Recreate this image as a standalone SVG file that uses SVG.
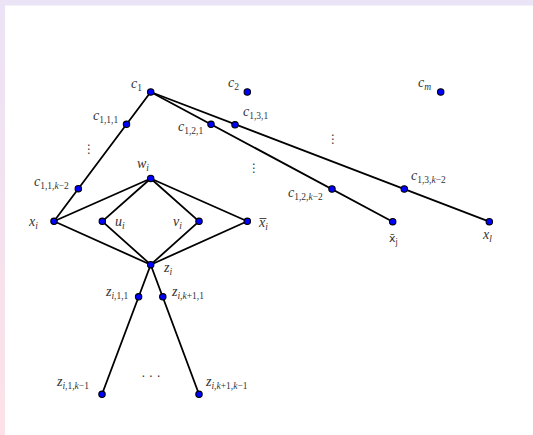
<svg xmlns="http://www.w3.org/2000/svg" width="533" height="435" viewBox="0 0 533 435">
<defs>
<linearGradient id="lg" x1="0" y1="0" x2="0" y2="1">
<stop offset="0" stop-color="#ebe3f6"/>
<stop offset="1" stop-color="#fde1e7"/>
</linearGradient>
</defs>
<style>
.e{stroke:#000;stroke-width:1.8;fill:none;stroke-linecap:round}
.n{fill:#0000ff;stroke:#000;stroke-width:1.1}
.t{font-family:"Liberation Serif","Times New Roman",serif;font-style:italic;font-size:14px;fill:#333}
.s{font-size:9.5px;font-style:normal}
.si{font-size:9.5px;font-style:italic}
.d{font-family:"DejaVu Sans",sans-serif;font-size:11px;fill:#333}
</style>
<rect x="0" y="0" width="533" height="435" fill="#fff"/>
<rect x="0" y="0" width="533" height="5.5" fill="#ebe3f6"/>
<rect x="0" y="0" width="5" height="435" fill="url(#lg)"/>
<g id="connectors">
<line class="e" x1="150.7" y1="92" x2="54" y2="221.3"/>
<line class="e" x1="150.7" y1="92" x2="392.7" y2="221.7"/>
<line class="e" x1="150.7" y1="92" x2="489.3" y2="221.7"/>
<line class="e" x1="150.7" y1="178.5" x2="54" y2="221.3"/>
<line class="e" x1="150.7" y1="178.5" x2="102.3" y2="221.3"/>
<line class="e" x1="150.7" y1="178.5" x2="199" y2="221.3"/>
<line class="e" x1="150.7" y1="178.5" x2="247.3" y2="221.3"/>
<line class="e" x1="150.7" y1="264.7" x2="54" y2="221.3"/>
<line class="e" x1="150.7" y1="264.7" x2="102.3" y2="221.3"/>
<line class="e" x1="150.7" y1="264.7" x2="199" y2="221.3"/>
<line class="e" x1="150.7" y1="264.7" x2="247.3" y2="221.3"/>
<line class="e" x1="150.7" y1="264.7" x2="102" y2="394.3"/>
<line class="e" x1="150.7" y1="264.7" x2="199" y2="394.3"/>
</g>
<g id="c1"><circle class="n" cx="150.7" cy="92" r="3.2"/><text class="t" x="131" y="88">c<tspan class="s" dy="2.5">1</tspan></text></g>
<g id="c2"><circle class="n" cx="247.3" cy="92" r="3.2"/><text class="t" x="228" y="87">c<tspan class="s" dy="2.5">2</tspan></text></g>
<g id="cm"><circle class="n" cx="440.7" cy="92" r="3.2"/><text class="t" x="418" y="87">c<tspan class="si" dy="2.5">m</tspan></text></g>
<g id="c111"><circle class="n" cx="126.5" cy="124.3" r="3.2"/><text class="t" x="93" y="120">c<tspan class="s" dy="2.5">1,1,1</tspan></text></g>
<g id="c121"><circle class="n" cx="211" cy="124.3" r="3.2"/><text class="t" x="178" y="131">c<tspan class="s" dy="2.5">1,2,1</tspan></text></g>
<g id="c131"><circle class="n" cx="235" cy="124.8" r="3.2"/><text class="t" x="243" y="116">c<tspan class="s" dy="2.5">1,3,1</tspan></text></g>
<g id="c11k2"><circle class="n" cx="78.3" cy="188.7" r="3.2"/><text class="t" x="34" y="186">c<tspan class="s" dy="2.5">1,1,</tspan><tspan class="si">k</tspan><tspan class="s">−2</tspan></text></g>
<g id="c12k2"><circle class="n" cx="332" cy="189" r="3.2"/><text class="t" x="288" y="197">c<tspan class="s" dy="2.5">1,2,</tspan><tspan class="si">k</tspan><tspan class="s">−2</tspan></text></g>
<g id="c13k2"><circle class="n" cx="404.3" cy="189" r="3.2"/><text class="t" x="411" y="180">c<tspan class="s" dy="2.5">1,3,</tspan><tspan class="si">k</tspan><tspan class="s">−2</tspan></text></g>
<g id="wi"><circle class="n" cx="150.7" cy="178.5" r="3.2"/><text class="t" x="137" y="168">w<tspan class="si" dy="2.5">i</tspan></text></g>
<g id="xi"><circle class="n" cx="54" cy="221.3" r="3.2"/><text class="t" x="29" y="226">x<tspan class="si" dy="2.5">i</tspan></text></g>
<g id="ui"><circle class="n" cx="102.3" cy="221.3" r="3.2"/><text class="t" x="115" y="226">u<tspan class="si" dy="2.5">i</tspan></text></g>
<g id="vi"><circle class="n" cx="199" cy="221.3" r="3.2"/><text class="t" x="173" y="226">v<tspan class="si" dy="2.5">i</tspan></text></g>
<g id="xbari"><circle class="n" cx="247.3" cy="221.3" r="3.2"/><line x1="259.5" y1="218.5" x2="266.5" y2="218.5" stroke="#333" stroke-width="0.9"/><text class="t" x="259" y="227">x<tspan class="si" dy="2.5">i</tspan></text></g>
<g id="xbarj"><circle class="n" cx="392.7" cy="221.7" r="3.2"/><text class="d" x="389" y="242">x̄<tspan font-size="8" dy="2.5">j</tspan></text></g>
<g id="xl"><circle class="n" cx="489.3" cy="221.7" r="3.2"/><text class="t" x="483" y="239">x<tspan class="si" dy="2.5">l</tspan></text></g>
<g id="zi"><circle class="n" cx="150.7" cy="264.7" r="3.2"/><text class="t" x="164" y="272">z<tspan class="si" dy="2.5">i</tspan></text></g>
<g id="zi11"><circle class="n" cx="138.6" cy="296.8" r="3.2"/><text class="t" x="106" y="296">z<tspan class="si" dy="2.5">i</tspan><tspan class="s">,1,1</tspan></text></g>
<g id="zik11"><circle class="n" cx="162.8" cy="296.8" r="3.2"/><text class="t" x="172" y="296">z<tspan class="si" dy="2.5">i</tspan><tspan class="s">,</tspan><tspan class="si">k</tspan><tspan class="s">+1,1</tspan></text></g>
<g id="zi1k1"><circle class="n" cx="102" cy="394.3" r="3.2"/><text class="t" x="57" y="386">z<tspan class="si" dy="2.5">i</tspan><tspan class="s">,1,</tspan><tspan class="si">k</tspan><tspan class="s">−1</tspan></text></g>
<g id="zik1k1"><circle class="n" cx="199" cy="394.3" r="3.2"/><text class="t" x="206" y="386">z<tspan class="si" dy="2.5">i</tspan><tspan class="s">,</tspan><tspan class="si">k</tspan><tspan class="s">+1,</tspan><tspan class="si">k</tspan><tspan class="s">−1</tspan></text></g>
<g id="dots" font-family="DejaVu Sans,sans-serif" font-size="12" fill="#333">
<text x="89" y="153" text-anchor="middle">⋮</text>
<text x="254" y="172" text-anchor="middle">⋮</text>
<text x="333" y="143" text-anchor="middle">⋮</text>
<text x="151" y="381" text-anchor="middle">· · ·</text>
</g>
</svg>
